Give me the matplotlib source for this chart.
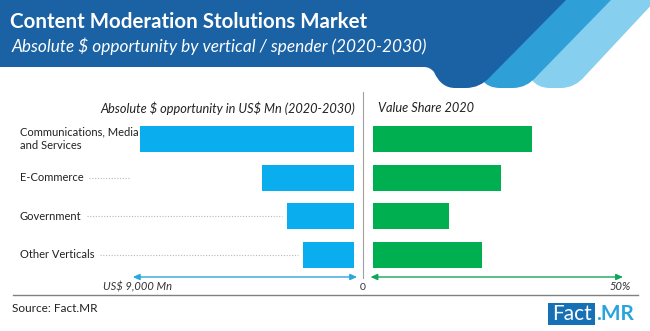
import matplotlib.pyplot as plt
from matplotlib.path import Path
from matplotlib.patches import PathPatch, Rectangle

# data
categories = ["Communications, Media\nand Services", "E-Commerce", "Government", "Other Verticals"]
opportunity = [8800, 3780, 2750, 2100]      # US$ Mn, 2020-2030
share_2020 = [31.7, 25.6, 15.2, 21.8]       # %
opp_max = 9000
share_max = 50

# colours
dark_blue = "#1a62a3"
mid_blue = "#2f9fd8"
light_blue = "#86cfee"
bar_blue = "#0aaeef"
bar_green = "#00b050"
arrow_blue = "#2aa7df"
arrow_green = "#13a55a"

plt.rcParams['font.family'] = ['Lato', 'DejaVu Sans']

W, H = 650, 331
fig = plt.figure(figsize=(W / 100, H / 100), dpi=100)

# overlay in pixel coordinates for the decorations
ov = fig.add_axes([0, 0, 1, 1], zorder=0)
ov.set_xlim(0, W)
ov.set_ylim(H, 0)
ov.axis("off")


def header_shape(pts, codes, color):
    ov.add_patch(PathPatch(Path(pts, codes), facecolor=color, edgecolor="none"))


M, L, C, Z = Path.MOVETO, Path.LINETO, Path.CURVE3, Path.CLOSEPOLY
# light band (back)
header_shape([(530, 0), (656, 0), (585, 76), (575, 88), (561, 88), (550, 88),
              (538, 88), (532, 80), (530, 0)],
             [M, L, L, C, C, L, C, C, Z], light_blue)
# middle band
header_shape([(480, 0), (611, 0), (537, 76), (527, 88), (513, 88), (500, 88),
              (488, 88), (482, 80), (480, 0)],
             [M, L, L, C, C, L, C, C, Z], mid_blue)
# dark band with title
header_shape([(0, 0), (566, 0), (490, 77), (480, 88), (466, 88), (455, 88),
              (441, 88), (434, 72), (430, 67), (424, 67), (0, 67), (0, 0)],
             [M, L, L, C, C, L, C, C, C, C, L, Z], dark_blue)

ov.text(10, 22, "Content Moderation Stolutions Market", color="white",
        fontsize=14.8, fontweight="bold", va="center", ha="left")
ov.text(12, 46, "Absolute \\$ opportunity by vertical / spender (2020-2030)",
        color="white", fontsize=12.4, style="italic", va="center", ha="left")

# panel headers
ov.text(355, 108, "Absolute \\$ opportunity in US\\$ Mn (2020-2030)", fontsize=9.2,
        style="italic", ha="right", va="center", color="#222222")
ov.text(378, 108, "Value Share 2020", fontsize=9.2, style="italic",
        ha="left", va="center", color="#222222")

# divider, bottom rule, source, logo
ov.plot([363, 363], [92, 278], color="#a0a0a0", lw=0.8)
ov.plot([13, 638], [295, 295], color="#808080", lw=1)
ov.text(363, 287, "0", fontsize=7.5, ha="center", va="center", color="#333333")
ov.text(12, 309, "Source: Fact.MR", fontsize=8.5, ha="left", va="center", color="#222222")
ov.add_patch(Rectangle((548, 303), 47, 22, facecolor="#1670b5", edgecolor="none"))
ov.text(571.5, 314, "Fact", fontsize=15, color="white", ha="center", va="center")
ov.text(596, 314, ".MR", fontsize=15, color="#29a4dd", fontweight="bold",
        ha="left", va="center")

# bar axes, positioned in pixels
y_top, y_bot = 119.7, 274.3
ypos = list(range(len(categories)))


def px_axes(x0, x1):
    ax = fig.add_axes([x0 / W, 1 - y_bot / H, (x1 - x0) / W, (y_bot - y_top) / H], zorder=1)
    ax.patch.set_visible(False)
    ax.axis("off")
    ax.set_ylim(len(categories) - 0.5, -0.5)
    return ax


ax1 = px_axes(135, 354)
ax1.barh(ypos, opportunity, height=0.67, color=bar_blue)
ax1.set_xlim(opp_max, 0)

ax2 = px_axes(373, 623)
ax2.barh(ypos, share_2020, height=0.67, color=bar_green)
ax2.set_xlim(0, share_max)

# scale arrows under each panel
arrow_y = (y_bot - 277) / (y_bot - y_top)
ax1.annotate("", xy=(opp_max * 1.01, arrow_y), xytext=(-opp_max * 0.014, arrow_y),
             xycoords=ax1.get_xaxis_transform(), textcoords=ax1.get_xaxis_transform(),
             arrowprops=dict(arrowstyle="<|-|>,head_length=0.4,head_width=0.18",
                             color=arrow_blue, lw=1, shrinkA=0, shrinkB=0))
ax2.annotate("", xy=(-0.5, arrow_y), xytext=(share_max, arrow_y),
             xycoords=ax2.get_xaxis_transform(), textcoords=ax2.get_xaxis_transform(),
             arrowprops=dict(arrowstyle="<|-|>,head_length=0.4,head_width=0.18",
                             color=arrow_green, lw=1, shrinkA=0, shrinkB=0))
label_y = (y_bot - 287) / (y_bot - y_top)
ax1.text(opp_max * 0.99, label_y, "US\\$ 9,000 Mn", transform=ax1.get_xaxis_transform(),
         fontsize=8, style="italic", ha="center", va="center", color="#333333")
ax2.text(share_max * 0.99, label_y, "50%", transform=ax2.get_xaxis_transform(),
         fontsize=8, style="italic", ha="center", va="center", color="#333333")

# category labels with dotted leaders
labels = []
for i, cat in enumerate(categories):
    ypx = ov.transData.inverted().transform(ax1.transData.transform((0, i)))[1]
    labels.append(ov.text(20, ypx, cat, fontsize=8, ha="left", va="center",
                          color="#222222", linespacing=1.25))

fig.canvas.draw()
renderer = fig.canvas.get_renderer()
leader_end = [None, opp_max, opportunity[2], opportunity[3]]
for i, t in enumerate(labels):
    if leader_end[i] is None:
        continue
    bb = t.get_window_extent(renderer)
    x_start = ov.transData.inverted().transform((bb.x1, bb.y0))[0] + 5
    end_px = ax1.transData.transform((leader_end[i], i))
    x_end = ov.transData.inverted().transform(end_px)[0] - 5
    ypx = ov.transData.inverted().transform(ax1.transData.transform((0, i)))[1]
    ov.plot([x_start, x_end], [ypx, ypx], color="#b8b8b8", lw=0.8, ls=(0, (1, 1.5)))

fig.savefig("out.png", dpi=100)
